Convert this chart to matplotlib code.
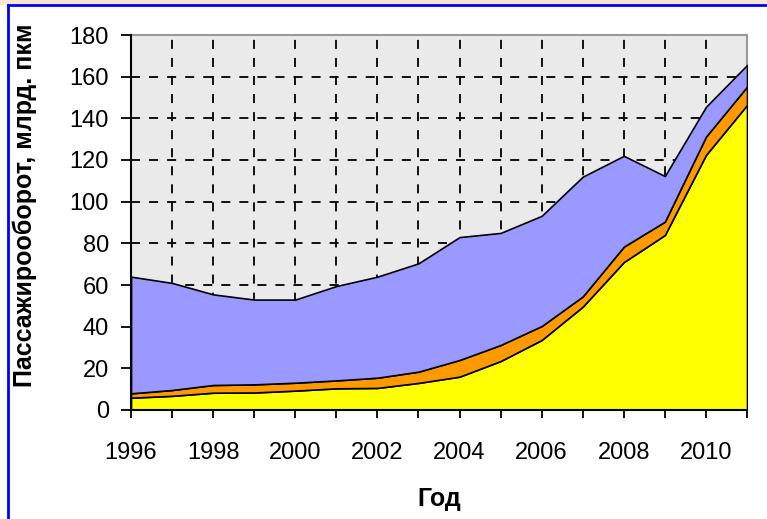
import matplotlib
matplotlib.use("Agg")
import matplotlib.pyplot as plt
from matplotlib.lines import Line2D
from matplotlib.patches import Rectangle

years = [1996, 1997, 1998, 1999, 2000, 2001, 2002, 2003, 2004, 2005, 2006, 2007, 2008, 2009, 2010, 2011]
# cumulative levels
yellow_top = [5.9, 6.8, 8.3, 8.4, 9.3, 10.4, 10.6, 13.0, 16.0, 23.5, 33.6, 49.6, 71.0, 84.0, 122.4, 146.4]
orange_top = [8.0, 9.6, 12.0, 12.3, 13.1, 14.2, 15.5, 18.4, 24.0, 31.2, 40.3, 54.5, 78.4, 90.4, 131.2, 155.2]
total_top = [64.0, 61.0, 55.5, 53.0, 53.0, 59.5, 64.0, 70.4, 83.0, 85.0, 93.2, 112.0, 122.0, 112.3, 145.5, 165.6]

yellow = yellow_top
orange = [o - y for o, y in zip(orange_top, yellow_top)]
blue = [t - o for t, o in zip(total_top, orange_top)]

yticks = [0, 20, 40, 60, 80, 100, 120, 140, 160, 180]
xticks_major = [1996, 1998, 2000, 2002, 2004, 2006, 2008, 2010]

plt.rcParams['font.family'] = ['Liberation Sans', 'DejaVu Sans']

fig = plt.figure(figsize=(7.67, 5.19), dpi=100)
ax = fig.add_axes([131/767, 1 - 410/519, (747 - 131)/767, (410 - 35)/519])
ax.set_facecolor('#EAEAEA')

ax.stackplot(years, yellow, orange, blue,
             colors=['#FFFF00', '#FF9900', '#9999FF'],
             edgecolor='black', linewidth=1.2, zorder=3)

ax.set_xlim(1996, 2011)
ax.set_ylim(0, 180)
ax.set_yticks(yticks)
ax.set_xticks(xticks_major)
ax.set_xticks(years, minor=True)

ax.grid(True, which='both', axis='x', color='black', linestyle=(0, (5, 5)), linewidth=1.3, zorder=1)
ax.grid(True, which='major', axis='y', color='black', linestyle=(0, (5, 5)), linewidth=1.3, zorder=1)
ax.set_axisbelow(True)

for s in ['top', 'right']:
    ax.spines[s].set_color('#999999')
    ax.spines[s].set_linewidth(1.5)
for s in ['left', 'bottom']:
    ax.spines[s].set_color('black')
    ax.spines[s].set_linewidth(1.5)
    ax.spines[s].set_zorder(5)

ax.tick_params(axis='y', which='major', direction='out', length=7, width=1.3, pad=9, labelsize=17)
ax.tick_params(axis='x', which='both', direction='out', length=6, width=1.3, pad=17, labelsize=17)
ax.tick_params(axis='x', which='minor', labelbottom=False)

ax.set_xlabel('Год', fontsize=18, fontweight='bold')
ax.set_ylabel('Пассажирооборот, млрд. пкм', fontsize=18, fontweight='bold')
ax.yaxis.set_label_coords(-(131 - 37)/616, (410 - 205)/375)
ax.xaxis.set_label_coords(0.5, -(487 - 410)/375)

# figure border fragments
fig.add_artist(Rectangle((0, 1 - 5/519), 1, 5/519, transform=fig.transFigure,
                         facecolor='#F6E8CC', edgecolor='none'))
fig.add_artist(Line2D([8/767, 8/767], [0, 1 - 5/519], transform=fig.transFigure, color='#0000FF', linewidth=2))
fig.add_artist(Line2D([8/767, 1], [1 - 5/519, 1 - 5/519], transform=fig.transFigure, color='#0000FF', linewidth=2))

fig.savefig('out.png', dpi=100)
